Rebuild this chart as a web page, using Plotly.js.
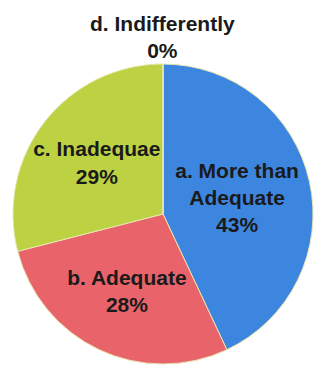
<!DOCTYPE html>
<html><head><meta charset="utf-8">
<script src="https://cdn.plot.ly/plotly-3.0.1.min.js"></script>
<style>html,body{margin:0;padding:0;background:#fff}#chart{width:318px;height:367px}</style>
</head><body><div id="chart"></div>
<script>
const labels = ["a. More than<br>Adequate", "b. Adequate", "c. Inadequae", "d. Indifferently"];
const values = [43, 28, 29, 0];
const colors = ["#3d86e0", "#e8646a", "#bcd242", "#ffffff"];
const positions = ["inside", "inside", "inside", "none"];

const fontFam = "Liberation Sans, Arial, sans-serif";
const textFont = {family: fontFam, size: 21, color: "#1a1a1a", weight: "bold"};

Plotly.newPlot("chart", [{
  type: "pie",
  labels: labels,
  values: values,
  sort: false,
  direction: "clockwise",
  rotation: 0,
  marker: {colors: colors, line: {color: "#e9e6b0", width: 1}},
  texttemplate: "%{label}<br>%{value}%",
  textposition: positions,
  insidetextorientation: "horizontal",
  textfont: textFont,
  hoverinfo: "none",
  domain: {x: [0.0409, 0.9843], y: [0.0082, 0.8256]},
  showlegend: false
}], {
  width: 318, height: 367,
  margin: {l: 0, r: 0, t: 0, b: 0},
  paper_bgcolor: "#ffffff",
  showlegend: false,
  uniformtext: {mode: "show", minsize: 21},
  annotations: [{
    text: labels[3] + "<br>" + values[3] + "%",
    xref: "paper", yref: "paper",
    x: 0.512, xanchor: "center",
    y: 0.898, yanchor: "middle",
    showarrow: false,
    font: textFont
  }]
}, {staticPlot: true});
</script></body></html>
